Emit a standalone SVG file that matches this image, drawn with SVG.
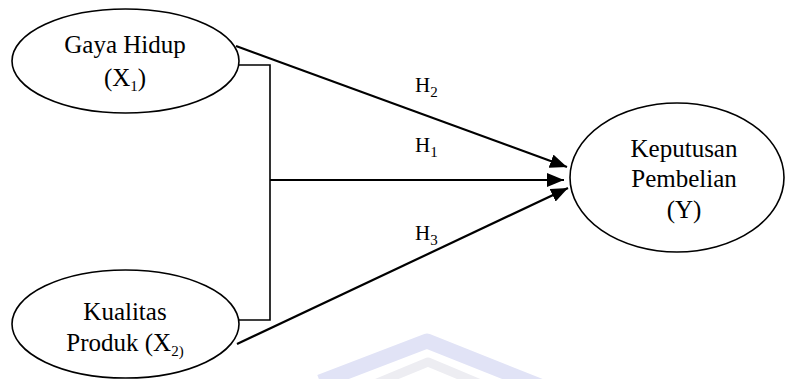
<svg xmlns="http://www.w3.org/2000/svg" width="785" height="379" viewBox="0 0 785 379">
  <style>
    .node { fill: #ffffff; stroke: #000000; stroke-width: 1.6; }
    .lbl { font-family: "Liberation Serif", "Times New Roman", serif; font-size: 25px; fill: #000000; text-anchor: middle; }
    .hl { font-family: "Liberation Serif", "Times New Roman", serif; font-size: 21px; fill: #000000; }
    .sub { font-size: 15px; }
    .edge { fill: none; stroke: #000000; stroke-width: 2.2; }
    .bracket { fill: none; stroke: #000000; stroke-width: 1.6; }
  </style>
  <defs>
    <marker id="arrow" markerUnits="userSpaceOnUse" markerWidth="18" markerHeight="14" refX="17" refY="7" orient="auto">
      <path d="M0,0 L17,7 L0,14 z" fill="#000000"/>
    </marker>
  </defs>
  <rect width="785" height="379" fill="#ffffff"/>
  <g id="watermark" fill="none" stroke-linejoin="round">
    <polyline points="320,382 427,341 545,388" stroke="#e1e3f6" stroke-width="15"/>
    <polyline points="365,388 428,362 495,390" stroke="#ededf2" stroke-width="9"/>
  </g>
  <g id="connectors">
    <line class="edge" x1="236" y1="46" x2="567" y2="167" marker-end="url(#arrow)"/>
    <path class="bracket" d="M239,65 H270 V320 H239"/>
    <line class="edge" x1="270" y1="180" x2="564" y2="180" marker-end="url(#arrow)"/>
    <line class="edge" x1="237" y1="344" x2="568" y2="188" marker-end="url(#arrow)"/>
    <text class="hl" x="415" y="92">H<tspan class="sub" dy="5">2</tspan></text>
    <text class="hl" x="415" y="152">H<tspan class="sub" dy="5">1</tspan></text>
    <text class="hl" x="415" y="240">H<tspan class="sub" dy="5">3</tspan></text>
  </g>
  <g id="gaya-hidup">
    <ellipse class="node" cx="125.5" cy="61" rx="113.5" ry="52"/>
    <text class="lbl" x="125" y="53">Gaya Hidup</text>
    <text class="lbl" x="125" y="86">(X<tspan class="sub" dy="5">1</tspan><tspan dy="-5">)</tspan></text>
  </g>
  <g id="kualitas-produk">
    <ellipse class="node" cx="125.5" cy="324" rx="113.5" ry="54"/>
    <text class="lbl" x="125" y="320">Kualitas</text>
    <text class="lbl" x="125" y="351">Produk (X<tspan class="sub" dy="5">2)</tspan></text>
  </g>
  <g id="keputusan-pembelian">
    <ellipse class="node" cx="677" cy="177.5" rx="107" ry="74.5"/>
    <text class="lbl" x="684" y="157">Keputusan</text>
    <text class="lbl" x="684" y="187">Pembelian</text>
    <text class="lbl" x="684" y="218">(Y)</text>
  </g>
</svg>
